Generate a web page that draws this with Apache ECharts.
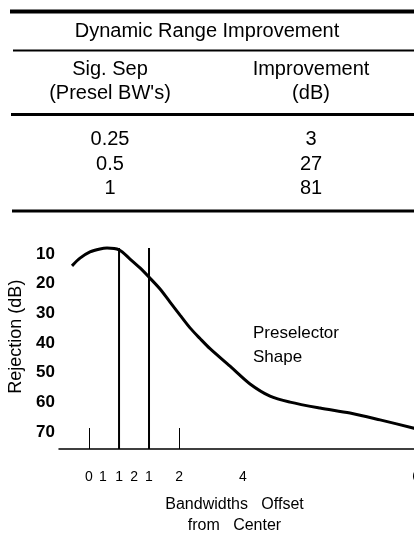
<!DOCTYPE html>
<html>
<head>
<meta charset="utf-8">
<script src="https://cdn.jsdelivr.net/npm/echarts@6/dist/echarts.min.js"></script>
<style>
html,body{margin:0;padding:0;background:#fff;}
#c{width:414px;height:534px;}
</style>
</head>
<body>
<div id="c"></div>
<script>
// ---- Table data ----
const tableTitle = 'Dynamic Range Improvement';
const colHeader1 = ['Sig. Sep', "(Presel BW's)"];
const colHeader2 = ['Improvement', '(dB)'];
const sigSep = ['0.25', '0.5', '1'];
const improvementDb = ['3', '27', '81'];

// ---- Chart data ----
const yTickValues = [10, 20, 30, 40, 50, 60, 70];
const xTickValues = [0, 0.31, 0.667, 1.0, 1.333, 2, 3.42, 7.27];
const xTickLabels = ['0', '1', '1', '2', '1', '2', '4', '6'];
const refTickValues = [0, 2];
const curveX = [-0.378, -0.2, 0.022, 0.244, 0.4, 0.667, 0.911, 1.133, 1.333, 1.578, 1.8, 2.022, 2.244, 2.467, 2.689, 3.133, 3.578, 4.022, 4.467, 5.133, 5.8, 6.467, 7.2, 7.25];
const curveY = [14.0, 11.4, 9.3, 8.3, 8.0, 8.6, 11.7, 14.7, 17.8, 21.8, 26.2, 30.6, 34.9, 38.5, 41.9, 47.8, 53.8, 57.9, 59.9, 61.9, 63.6, 65.9, 68.6, 68.8];
const markerX = [0.667, 1.333];
const markerTop = [8.0, 8.0];
const axisFloor = 75.7;
const annotation = ['Preselector', 'Shape'];

const FONT = '"Liberation Sans", Arial, Helvetica, sans-serif';
const chart = echarts.init(document.getElementById('c'), null, {renderer: 'canvas'});

function txt(text, x, y, size, align) {
  return {type: 'text', silent: true, style: {text: text, x: x, y: y, fill: '#000',
    font: size + 'px ' + FONT, align: align || 'center', verticalAlign: 'middle'}};
}
function hline(y, x1, w) {
  return {type: 'line', silent: true, shape: {x1: x1, y1: y, x2: 414, y2: y},
    style: {stroke: '#000', lineWidth: w}};
}

const graphics = [
  hline(11.5, 10, 4),
  txt(tableTitle, 207, 31, 20),
  hline(50.5, 13, 2),
  txt(colHeader1[0], 110, 69, 20),
  txt(colHeader1[1], 110, 93, 20),
  txt(colHeader2[0], 311, 69, 20),
  txt(colHeader2[1], 311, 93, 20),
  hline(114.5, 11, 3),
  hline(211, 12, 3)
];
const rowY = [139, 164, 188];
sigSep.forEach((s, i) => {
  graphics.push(txt(s, 110, rowY[i], 20));
  graphics.push(txt(improvementDb[i], 311, rowY[i], 20));
});
graphics.push({type: 'text', silent: true, left: 253, top: 321,
  style: {text: annotation.join('\n'), fill: '#000', font: '17px ' + FONT, lineHeight: 24}});

const series = [{
  type: 'line',
  data: curveX.map((x, i) => [x, curveY[i]]),
  smooth: 0.3,
  showSymbol: false,
  lineStyle: {color: '#000', width: 3},
  clip: false,
  z: 5
}];
markerX.forEach((x, i) => {
  series.push({
    type: 'line',
    data: [[x, markerTop[i]], [x, axisFloor]],
    showSymbol: false,
    lineStyle: {color: '#000', width: 2},
    z: 4
  });
});

chart.setOption({
  backgroundColor: '#fff',
  animation: false,
  graphic: graphics,
  grid: {left: 59, width: 359, top: 224.3, height: 224.7, containLabel: false, outerBoundsMode: 'none'},
  xAxis: {
    type: 'value',
    position: 'bottom',
    min: -0.667,
    max: 7.31,
    splitLine: {show: false},
    axisLine: {show: true, onZero: false, lineStyle: {color: '#000', width: 1.5}},
    axisTick: {show: true, inside: true, length: 21, customValues: refTickValues,
      lineStyle: {color: '#000', width: 1}},
    axisLabel: {
      customValues: xTickValues,
      formatter: function (v) { const k = xTickValues.indexOf(v); return k >= 0 ? xTickLabels[k] : ''; },
      margin: 21, fontSize: 14, color: '#000', fontFamily: FONT, hideOverlap: false
    },
    name: 'Bandwidths   Offset\nfrom   Center',
    nameLocation: 'middle',
    nameGap: 45,
    nameTextStyle: {fontSize: 16, lineHeight: 21, color: '#000', fontFamily: FONT, padding: [0, 8, 0, 0]}
  },
  yAxis: {
    type: 'value',
    inverse: true,
    min: 0,
    max: axisFloor,
    interval: 10,
    splitLine: {show: false},
    axisLine: {show: false},
    axisTick: {show: false},
    axisLabel: {
      formatter: function (v) { return yTickValues.indexOf(v) >= 0 ? String(v) : ''; },
      margin: 4, fontSize: 17, fontWeight: 'bold', color: '#000', fontFamily: FONT
    },
    name: 'Rejection (dB)',
    nameLocation: 'middle',
    nameRotate: 90,
    nameGap: 33,
    nameTextStyle: {fontSize: 18, color: '#000', fontFamily: FONT}
  },
  series: series
});
</script>
</body>
</html>
